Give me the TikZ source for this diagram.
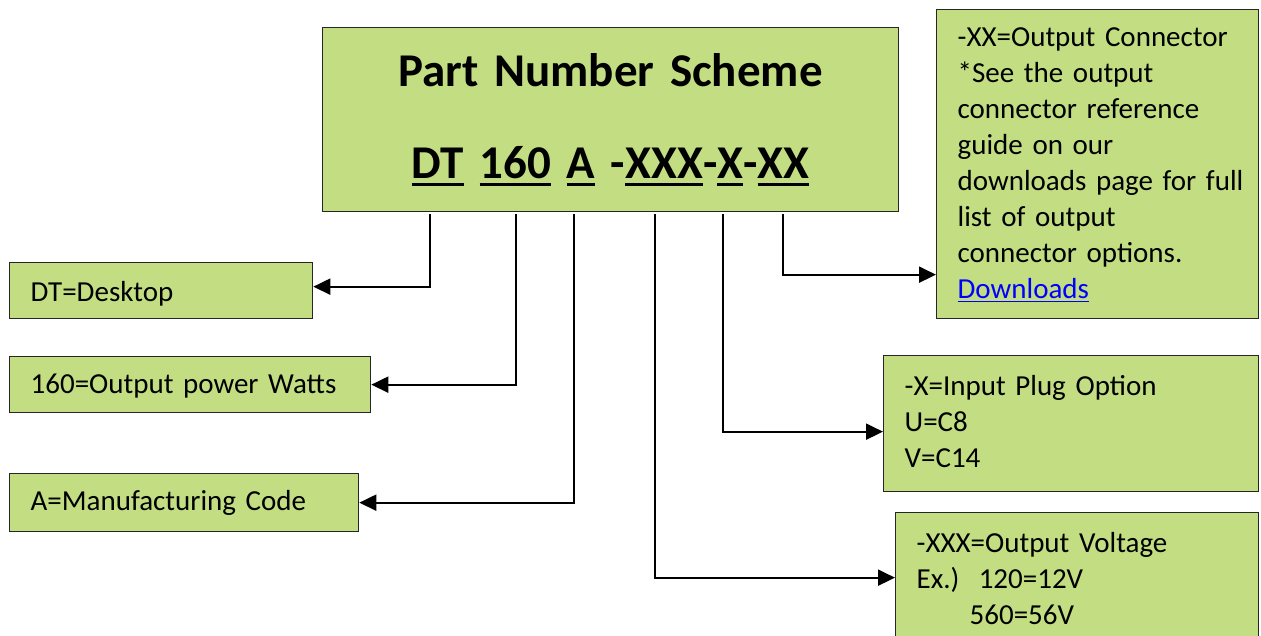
\documentclass[tikz,border=0pt]{standalone}
\usepackage{fontspec}
\setmainfont{Carlito}
\usetikzlibrary{arrows.meta}
\definecolor{boxgreen}{RGB}{195,222,130}
\definecolor{linkblue}{RGB}{0,0,255}
\newcommand\myul[1]{\leavevmode\setbox0\hbox{#1}\rlap{\rule[-7.5pt]{\wd0}{3.5pt}}\box0\relax}
\newcommand\linkul[1]{\leavevmode\setbox0\hbox{#1}\rlap{\rule[-3.8pt]{\wd0}{1.8pt}}\box0\relax}
\begin{document}
\begin{tikzpicture}[x=1pt,y=-1pt,
  box/.style={draw=black!85, line width=1.3pt, fill=boxgreen, anchor=north west,
    inner ysep=0pt, inner xsep=21pt, align=left, font=\fontsize{29}{36}\selectfont},
  conn/.style={draw=black, line width=2pt, -{Triangle[length=17pt,width=16pt]}}]
\useasboundingbox (0,0) rectangle (1261,635);

\node[box, align=center, inner xsep=10pt, text width=556pt, text height=59pt, text depth=125pt,
  font=\bfseries\fontsize{47}{92}\selectfont] (main) at (322,27)
  {Part Number Scheme\\ \myul{DT} \myul{160} \myul{A} -\myul{XXX}-\myul{X}-\myul{XX}};

\node[box, text width=261pt, text height=39pt, text depth=17pt] (dt) at (9,262) {DT=Desktop};
\node[box, text width=319pt, text height=37pt, text depth=19pt] (pw) at (9,356) {160=Output power Watts};
\node[box, text width=307pt, text height=37pt, text depth=21pt] (mc) at (9,473) {A=Manufacturing Code};

\node[box, text width=280pt, text height=37pt, text depth=272pt] (xx) at (936,9)
  {-XX=Output Connector\\ {*}See the output\\ connector reference\\ guide on our\\ \mbox{downloads page for full}\\ list of output\\ connector options.\\ \textcolor{linkblue}{\linkul{Downloads}}};
\node[box, text width=333pt, text height=40pt, text depth=96pt] (ip) at (883,355)
  {-X=Input Plug Option\\ U=C8\\ V=C14};
\node[box, text width=321pt, text height=40pt, text depth=93pt] (ov) at (895,512)
  {-XXX=Output Voltage\\ Ex.)\ \ 120=12V\\ \hspace*{53pt}560=56V};

\draw[conn] ([xshift=108pt,yshift=-2pt]main.south west) |- ([yshift=4pt]dt.east);
\draw[conn] ([xshift=194pt,yshift=-2pt]main.south west) |- (pw.east);
\draw[conn] ([xshift=252pt,yshift=-2pt]main.south west) |- (mc.east);
\draw[conn] ([xshift=333pt,yshift=-2pt]main.south west) |- ([yshift=1.5pt]ov.west);
\draw[conn] ([xshift=401pt,yshift=-2pt]main.south west) |- ([yshift=-8pt]ip.west);
\draw[conn] ([xshift=461pt,yshift=-2pt]main.south west) |- ([yshift=-110.5pt]xx.west);
\end{tikzpicture}
\end{document}
